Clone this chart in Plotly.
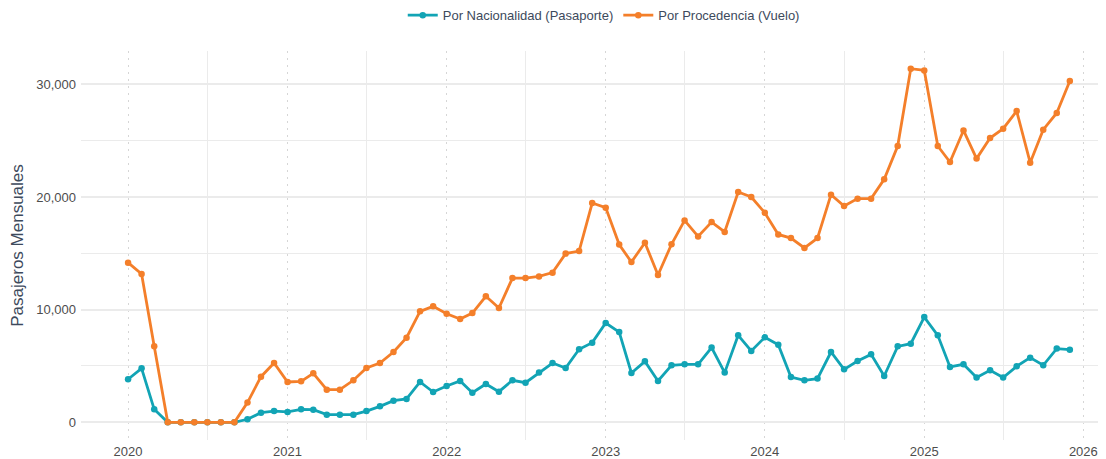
import plotly.graph_objects as go
import pandas as pd

months = pd.date_range("2020-01-01", "2025-12-01", freq="MS")

pasaporte = [
    3820, 4790, 1150, 0, 0, 0, 0, 0, 0, 270, 860, 1000,
    920, 1150, 1120, 680, 680, 680, 1000, 1420, 1920, 2070, 3580, 2690,
    3220, 3670, 2630, 3400, 2720, 3730, 3520, 4410, 5260, 4820, 6480, 7070,
    8810, 8010, 4380, 5410, 3670, 5060, 5150, 5150, 6630, 4410, 7720, 6330,
    7540, 6890, 4020, 3730, 3880, 6240, 4700, 5440, 6030, 4110, 6740, 6980,
    9340, 7720, 4910, 5150, 3970, 4610, 3970, 4970, 5740, 5060, 6540, 6450,
]

vuelo = [
    14170, 13160, 6740, 0, 0, 0, 0, 0, 0, 1750, 4050, 5260,
    3580, 3640, 4350, 2900, 2900, 3730, 4830, 5260, 6240, 7510, 9850, 10290,
    9640, 9170, 9700, 11180, 10140, 12800, 12800, 12950, 13280, 14970, 15200, 19460,
    19050, 15770, 14220, 15940, 13070, 15800, 17920, 16500, 17770, 16890, 20440, 19990,
    18600, 16670, 16350, 15470, 16350, 20200, 19200, 19850, 19850, 21560, 24520, 31380,
    31230, 24520, 23100, 25900, 23400, 25230, 26060, 27620, 23040, 25970, 27450, 30290,
]

series_names = ["Por Nacionalidad (Pasaporte)", "Por Procedencia (Vuelo)"]
series_colors = ["#12A4B5", "#F47F2A"]

fig = go.Figure()
for name, vals, col in zip(series_names, [pasaporte, vuelo], series_colors):
    fig.add_trace(go.Scatter(
        x=months, y=vals, name=name, mode="lines+markers",
        line=dict(color=col, width=2.8),
        marker=dict(color=col, size=6.5),
        hovertemplate="%{x|%b %Y}<br>%{y:,}<extra>" + name + "</extra>",
    ))

font_family = "Liberation Sans, Arial, sans-serif"

# the page body adds an 8px offset; the figure is sized to fill the rest
fig.update_layout(
    width=1098, height=451,
    margin=dict(l=73, r=0, t=43, b=19, autoexpand=False),
    paper_bgcolor="white", plot_bgcolor="white",
    font=dict(family=font_family, size=13, color="#4d4d4d"),
    showlegend=True,
    legend=dict(orientation="h", x=0.51, xanchor="center", xref="paper",
                y=0.984, yanchor="middle", yref="container",
                font=dict(size=13, color="#3d4a5c"),
                itemwidth=30, bgcolor="rgba(0,0,0,0)"),
    xaxis=dict(
        range=["2019-09-15", "2026-02-22"],
        tickformat="%Y", dtick="M12", tick0="2020-01-01",
        showgrid=True, gridcolor="#d6d6d6", griddash="2px,5px", gridwidth=1,
        minor=dict(dtick="M12", tick0="2020-07-01", showgrid=True,
                   gridcolor="#ebebeb", gridwidth=1, griddash="solid"),
        zeroline=False, showline=False, ticks="",
        tickfont=dict(size=13, color="#4d4d4d"),
        ticklabelstandoff=2,
        automargin=False,
    ),
    yaxis=dict(
        range=[-1569, 32950],
        tickvals=[0, 10000, 20000, 30000],
        tickformat=",d",
        showgrid=True, gridcolor="#ebebeb", gridwidth=1.5,
        minor=dict(tickvals=[5000, 15000, 25000], showgrid=True,
                   gridcolor="#ebebeb", gridwidth=1),
        zeroline=False, showline=False, ticks="",
        tickfont=dict(size=13, color="#4d4d4d"),
        ticklabelstandoff=4,
        automargin=False,
        title=dict(text="Pasajeros Mensuales", font=dict(size=17, color="#3d4a5c"),
                   standoff=8),
    ),
)

fig.write_html("out.html")
